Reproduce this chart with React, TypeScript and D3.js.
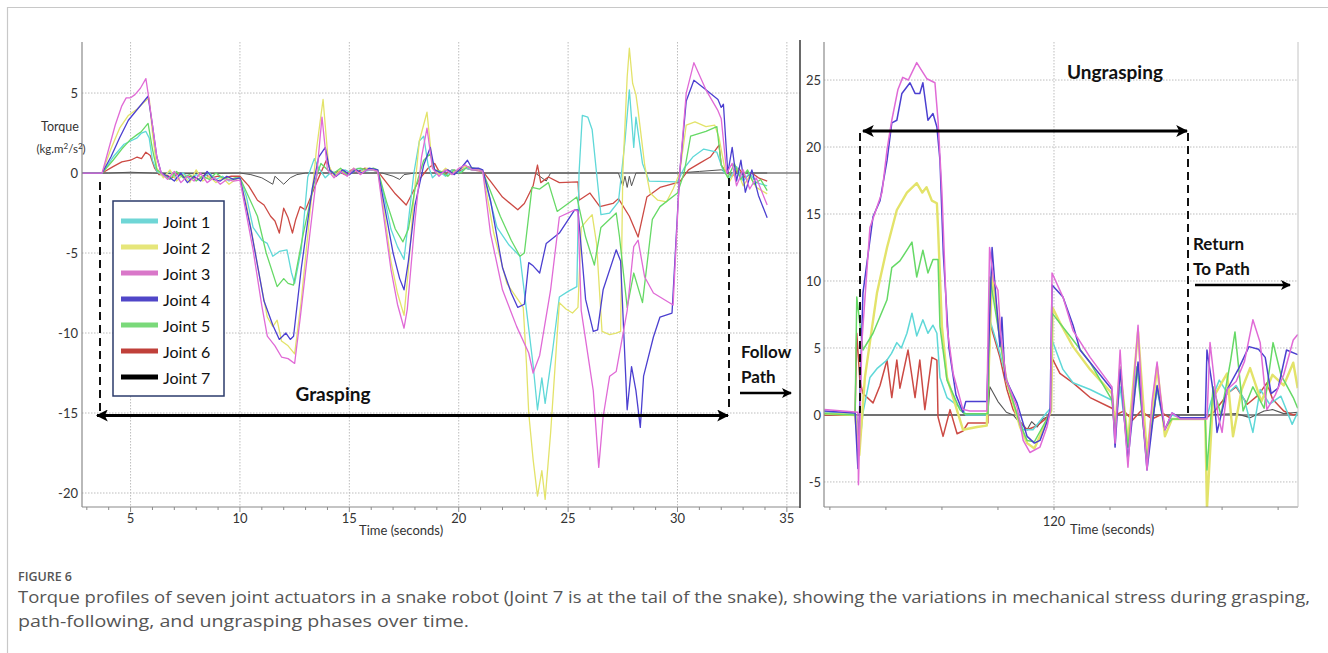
import React from "react";
import * as d3 from "d3";

type P = [number, number];

const JOINTS = ["Joint 1", "Joint 2", "Joint 3", "Joint 4", "Joint 5", "Joint 6", "Joint 7"];
const LINE_COLORS = ["#5fd8d8", "#e3e36a", "#e06ad6", "#4b3fd0", "#66d966", "#cc4a44", "#555555"];
const SWATCH_COLORS = ["#6fd6d6", "#e6e67a", "#d977c9", "#5046c8", "#7ad97a", "#c0403a", "#000000"];

const LEFT_X_TICKS = [5, 10, 15, 20, 25, 30, 35];
const LEFT_Y_TICKS = [5, 0, -5, -10, -15, -20];
const RIGHT_Y_TICKS = [25, 20, 15, 10, 5, 0, -5];
const RIGHT_X_LABELS = [120];

// ---------- Left panel (Grasping / Follow path), time in s, torque ----------
const L_J1: P[] = [[2.8,0],[3.7,0],[4.2,1.0],[4.7,1.8],[5.0,2.0],[5.3,2.2],[5.5,2.5],[5.7,2.6],[5.85,2.2],[6.0,0.8],[6.2,0.1],
[6.5,-0.2],[6.8,0.1],[7.1,-0.3],[7.4,0],[7.7,-0.4],[8.0,-0.1],[8.3,-0.3],[8.6,0],[8.9,-0.4],[9.2,-0.2],[9.5,-0.5],[9.8,-0.3],[10.0,-0.3],
[10.3,-1.5],[10.6,-3.4],[11.0,-4.2],[11.25,-4.4],[11.5,-5.2],[11.8,-4.9],[12.15,-4.8],[12.35,-6.2],[12.5,-6.9],[12.8,-4.8],[13.1,-0.25],[13.4,0.9],[13.6,0.3],[13.9,-0.3],
[14.2,0.1],[14.5,-0.1],[14.8,0.2],[15.1,0],[15.4,0.3],[15.7,0.1],[16.0,0.2],[16.3,0.1],
[16.6,-1.5],[16.9,-3.5],[17.2,-4.6],[17.5,-5.4],[17.7,-3],[17.95,0],[18.2,2.0],[18.4,2.3],[18.6,0.5],[18.8,-0.3],
[19.1,0.1],[19.4,-0.2],[19.7,0.2],[20.0,0],[20.3,0.3],[20.6,0.2],[20.9,0.2],[21.1,0.1],
[21.4,-1.5],[21.75,-3.4],[22.3,-4.5],[22.8,-5.2],[23.1,-8.6],[23.4,-12],[23.6,-14.8],[23.8,-12.8],[23.95,-14.4],[24.3,-11],[24.6,-7.75],[25.0,-7.4],[25.4,-7.1],[25.5,0],[25.65,3.6],[25.9,3.5],[26.1,2.7],[26.3,0],[26.5,-2.6],[26.9,-2.5],[27.3,-1.8],[27.6,2],[27.8,5.2],[28.0,1.6],[28.1,3.5],[28.4,0.6],[28.7,-0.5],[30.0,-0.55],[30.3,0.3],[30.7,1.0],[31.2,1.5],[31.8,1.3],[32.1,0.1],
[32.4,-0.3],[32.7,0.4],[33.0,-0.5],[33.3,0],[33.6,-0.6],[34.1,-0.8]];

const L_J2: P[] = [[2.8,0],[3.7,0],[4.1,1.5],[4.5,2.8],[4.9,3.6],[5.3,4.0],[5.6,4.4],[5.85,4.7],[6.0,2.5],[6.2,0.3],
[6.5,-0.3],[6.8,0.2],[7.1,-0.5],[7.4,-0.1],[7.7,-0.6],[8.0,0.2],[8.3,-0.5],[8.6,-0.2],[8.9,-0.6],[9.2,-0.3],[9.5,-0.7],[9.8,-0.4],[10.0,-0.3],
[10.3,-2],[10.6,-4.2],[10.9,-6.5],[11.25,-9],[11.5,-9.6],[11.7,-9.2],[11.9,-10.5],[12.2,-10.8],[12.5,-11.3],[12.8,-8],[13.2,-2.5],[13.5,1.5],[13.8,4.6],[14.05,0.5],
[14.3,-0.2],[14.6,0.2],[14.9,-0.1],[15.2,0.3],[15.5,0],[15.8,0.3],[16.1,0.2],[16.3,0.1],
[16.6,-2.5],[16.9,-5.5],[17.2,-7.5],[17.5,-8.9],[17.7,-6],[17.95,-1.5],[18.2,2],[18.55,3.8],[18.8,0.4],
[19.1,-0.1],[19.4,0.3],[19.7,0],[20.0,0.2],[20.3,0.4],[20.6,0.3],[20.9,0.2],[21.1,0.1],
[21.6,-3.75],[22.2,-6.9],[22.95,-8.4],[23.1,-12],[23.2,-15],[23.4,-17.9],[23.6,-20.2],[23.8,-18.6],[23.95,-20.4],[24.2,-16.25],[24.6,-8.1],[24.9,-8.5],[25.2,-8.75],[25.45,-8.4],[25.6,-3.4],[25.9,-2.9],[26.1,-2.6],[26.3,-4.4],[26.55,-9.9],[26.9,-10.1],[27.2,-10],[27.4,-9.9],[27.5,0],[27.7,6],[27.8,7.8],[27.95,5.6],[28.1,4.9],[28.2,3.9],[28.5,0.5],[28.75,-1.25],[29.1,-1.7],[29.5,-1.8],[29.8,-1.0],[30.1,0],[30.4,3.0],[30.8,3.2],[31.3,2.9],[31.7,3.0],[31.9,2.2],[32.2,0],
[32.4,-0.5],[32.7,0.3],[33.0,-0.8],[33.3,-0.2],[33.6,-0.9],[34.1,-1.3]];

const L_J3: P[] = [[2.8,0],[3.7,0],[4.0,1.5],[4.3,3],[4.6,4.2],[4.8,4.7],[5.0,4.7],[5.2,4.9],[5.45,5.3],[5.7,5.9],[5.8,5.0],[6.0,3],[6.2,1],[6.4,0],
[6.7,-0.4],[7.0,0.1],[7.3,-0.6],[7.6,-0.2],[7.9,-0.5],[8.2,0],[8.5,-0.6],[8.8,-0.3],[9.1,-0.7],[9.4,-0.4],[9.7,-0.5],[10.0,-0.45],
[10.6,-4.8],[11.0,-8.3],[11.25,-10.2],[11.6,-10.8],[11.9,-11.5],[12.2,-11.6],[12.5,-11.9],[12.76,-9],[13.2,-3.75],[13.5,-0.25],[13.75,3.5],[14.0,0.2],
[14.3,-0.3],[14.6,0.1],[14.9,-0.2],[15.2,0.3],[15.5,-0.1],[15.8,0.2],[16.1,0.2],[16.3,0.1],
[16.6,-3],[16.9,-6],[17.2,-8.2],[17.5,-9.7],[17.65,-8.5],[18.0,-3],[18.3,1],[18.55,2.8],[18.8,0.3],
[19.1,-0.2],[19.4,0.2],[19.7,-0.1],[20.0,0.3],[20.3,0.5],[20.6,0.2],[20.9,0.2],[21.1,0.1],
[21.45,-3.75],[22.0,-7.3],[22.65,-9.6],[23.2,-11.25],[23.4,-12.5],[23.7,-11.4],[24.2,-7.3],[24.6,-2.75],[25.3,-2.3],[25.45,-2.4],[25.6,-8.6],[26.15,-13.6],[26.4,-18.4],[26.6,-15.25],[26.9,-12.7],[27.2,-12.4],[27.7,-8.6],[28.0,-4.6],[28.2,-4.2],[28.5,-6.5],[28.9,-7.5],[29.8,-8.25],[30.1,0],[30.4,5],[30.75,6.9],[31.3,5.2],[31.85,3.9],[32.0,3.4],[32.25,0],
[32.5,0.6],[32.7,-0.8],[33.0,0.2],[33.3,-1.0],[33.6,-0.3],[34.1,-2.0]];

const L_J4: P[] = [[2.8,0],[3.7,0],[4.1,1.0],[4.5,2.2],[4.9,3.3],[5.2,3.8],[5.5,4.3],[5.8,4.8],[6.0,3.0],[6.2,1.0],[6.4,0],
[6.7,-0.2],[7.0,-0.5],[7.3,0],[7.6,-0.6],[7.9,-0.2],[8.2,-0.5],[8.5,0.1],[8.8,-0.4],[9.1,-0.5],[9.4,-0.2],[9.7,-0.4],[10.0,-0.3],
[10.5,-3.5],[11.1,-8],[11.5,-9.5],[11.8,-10.4],[12.1,-10],[12.3,-10.4],[12.45,-10.2],[12.8,-6],[13.3,-1],[13.6,1],[13.9,1.6],[14.1,0.2],
[14.4,-0.2],[14.7,0.2],[15.0,-0.1],[15.3,0.2],[15.6,0],[15.9,0.3],[16.3,0.2],
[16.6,-2],[17.0,-5],[17.3,-6.6],[17.5,-7.3],[17.7,-5.5],[18.0,-2],[18.4,0.5],[18.7,1.6],[18.9,0.2],
[19.2,0],[19.5,0.2],[19.8,-0.1],[20.1,0.3],[20.4,0.8],[20.6,0.3],[20.9,0.3],[21.1,0.2],
[21.45,-1.7],[22.0,-5.9],[22.4,-7.5],[22.7,-8.4],[23.0,-8.2],[23.2,-5.6],[23.4,-5.8],[23.7,-6.25],[24.0,-4.4],[24.6,-3.75],[25.3,-2.3],[25.45,-2.3],[25.8,-7.9],[26.15,-9.9],[26.35,-9.8],[26.6,-7.3],[27.2,-4.8],[27.4,-5.5],[27.7,-14.8],[27.9,-12.1],[28.1,-13.6],[28.3,-15.9],[28.45,-12.7],[28.9,-10.25],[29.2,-9],[29.75,-8.75],[30.1,0],[30.4,4.5],[30.75,5.8],[31.3,5.2],[31.85,4.6],[32.0,4.1],[32.1,4.3],[32.3,0],
[32.5,1.6],[32.7,-0.5],[32.9,0.8],[33.1,-1.2],[33.4,0.2],[33.7,-1.4],[34.1,-2.8]];

const L_J5: P[] = [[2.8,0],[3.7,0],[4.2,0.8],[4.6,1.5],[5.0,2.1],[5.3,2.4],[5.5,2.6],[5.8,3.1],[6.0,1.5],[6.2,0.2],
[6.5,-0.1],[6.8,-0.4],[7.1,0.1],[7.4,-0.3],[7.7,-0.1],[8.0,-0.5],[8.3,-0.2],[8.6,-0.4],[8.9,0],[9.2,-0.3],[9.5,-0.4],[9.8,-0.3],[10.0,-0.3],
[10.8,-2.7],[11.2,-5.0],[11.7,-7.1],[12.0,-6.6],[12.2,-6.9],[12.45,-7.0],[12.9,-3.75],[13.4,-0.6],[13.7,0.6],[14.0,0.2],
[14.3,0],[14.6,0.3],[14.9,-0.1],[15.2,0.2],[15.5,0.3],[15.8,0.2],[16.1,0.3],[16.3,0.2],
[16.7,-1.8],[17.1,-3.5],[17.45,-4.3],[17.7,-3.5],[18.0,-1],[18.4,0.8],[18.7,1.2],[18.9,0.2],
[19.2,0.1],[19.5,-0.2],[19.8,0.2],[20.1,0],[20.4,0.4],[20.7,0.3],[21.0,0.2],[21.1,0.1],
[21.9,-2.7],[22.4,-4.2],[22.8,-5.2],[23.0,-5],[23.35,-0.9],[23.7,-1.0],[24.1,-0.6],[24.5,-2.4],[25.0,-1.9],[25.4,-1.5],[25.8,-4],[26.2,-5.75],[26.5,-3.4],[27.2,-2.5],[27.35,-4],[27.7,-8.4],[28.0,-6.25],[28.4,-8.1],[28.85,-2.9],[29.2,-2.1],[30.0,-1.25],[30.3,0],[30.6,2.3],[31.3,2.6],[31.8,2.9],[32.0,0.5],
[32.3,-0.3],[32.6,0.6],[32.9,-0.4],[33.2,0.2],[33.5,-0.7],[33.8,-0.4],[34.1,-1.1]];

const L_J6: P[] = [[2.8,0],[3.7,0],[4.2,0.4],[4.6,0.7],[5.0,0.8],[5.3,1.0],[5.5,0.9],[5.7,1.3],[5.9,1.1],[6.1,0.3],[6.3,-0.1],
[6.6,-0.1],[6.9,-0.3],[7.2,0],[7.5,-0.3],[7.8,-0.2],[8.1,-0.4],[8.4,-0.1],[8.7,-0.3],[9.0,-0.2],[9.3,-0.3],[9.6,-0.2],[10.0,-0.2],
[10.4,-0.8],[10.8,-1.7],[11.1,-2.0],[11.4,-2.7],[11.6,-3.0],[11.8,-3.75],[12.0,-2.2],[12.2,-2.8],[12.4,-3.75],[12.55,-2.9],[12.75,-2.1],[13.0,-2.3],[13.5,-0.6],[13.95,0.8],[14.2,0],
[14.5,0.1],[14.8,-0.1],[15.1,0.2],[15.4,0.1],[15.7,0.3],[16.0,0.2],[16.3,0.1],
[16.7,-0.6],[17.1,-1.3],[17.6,-2.0],[17.9,-1.2],[18.2,-0.4],[18.6,0.3],[18.9,0.6],[19.1,0.1],
[19.4,-0.1],[19.7,0.2],[20.0,0.1],[20.3,0.3],[20.6,0.2],[21.1,0.1],
[21.5,-0.6],[22.0,-1.5],[22.7,-2.3],[23.0,-1.9],[23.4,-0.8],[23.6,0.5],[23.75,-0.6],[24.1,-0.25],[24.6,-0.6],[25.45,-0.55],[25.5,-1.7],[26.0,-1.25],[26.45,-2.1],[27.05,-1.9],[27.3,-1.6],[27.8,-2.7],[28.2,-4.0],[28.6,-1.5],[29.2,-0.9],[30.1,-0.55],[30.5,0.2],[31.0,0.6],[31.5,1.0],[31.9,1.75],[32.0,0.5],[32.2,0.1],
[32.5,-0.2],[32.8,0.3],[33.1,-0.3],[33.4,0],[33.7,-0.3],[34.1,-0.5]];

const L_J7: P[] = [[2.8,0],[4.0,0],[5.0,0.05],[6.0,0],[7.0,-0.05],[10.0,0],[10.5,-0.1],[11.0,-0.3],[11.5,-0.7],[11.6,-0.2],[12.0,-0.7],[12.3,-0.3],[12.6,-0.1],[13.0,0],
[16.5,0],[17.0,-0.2],[17.3,-0.4],[17.5,-0.1],[18.0,0],[23.5,0],[24.0,-0.5],[24.2,0],[27.3,0],[27.5,-0.8],[27.6,-0.2],[27.7,-0.9],[27.8,-0.2],[27.9,-0.8],[28.1,0],[30,0],[31,0.1],[32.0,0.2],[32.3,0],[34.1,0]];

// ---------- Right panel (Ungrasping / Return to path) ----------
const R_J1: P[] = [[111.8,0.2],[112.9,0.1],[113.0,-0.5],[113.1,-1.5],[113.18,0.15],[113.43,2.8],[113.7,3.5],[114.04,4.1],[114.2,4.6],[114.39,5.4],[114.55,5.0],[114.75,6.1],[114.93,7.6],[115.1,5.9],[115.32,7.1],[115.5,6.1],[115.68,6.7],[115.82,6.1],[115.93,2.8],[116.18,1.3],[116.75,0.4],[116.85,0],[117.64,0],[117.71,7.1],[118.07,4.6],[118.54,0.9],[118.9,-1.1],[119.25,-1.1],[119.75,0.2],[119.88,0.5],[119.93,5.6],[120.32,3.4],[120.68,2.4],[121.29,1.9],[122.07,1.1],[122.18,-0.7],[122.36,2.1],[122.64,-2.4],[123.0,3.6],[123.32,-3.2],[123.68,1.9],[123.96,-1.1],[124.21,0],[124.5,-0.2],[125.46,-0.2],[125.6,1.0],[125.9,2.6],[126.2,1.6],[126.5,2.2],[126.8,1.1],[127.1,-1.3],[127.36,1.9],[127.7,0.8],[128.1,1.4],[128.5,-0.7],[128.7,0.2]];

const R_J2: P[] = [[111.8,0.1],[112.9,0],[113.05,-3],[113.25,2.8],[113.68,9.1],[114.04,12.5],[114.39,15.3],[114.75,16.6],[115.1,17.3],[115.3,16.6],[115.45,17.0],[115.64,16.0],[115.82,15.8],[115.86,14.0],[116.0,6.6],[116.18,2.8],[116.75,-1.1],[117.25,-0.9],[117.6,-0.8],[117.79,10.6],[118.07,5.8],[118.3,2.6],[118.79,-0.9],[119.04,-2.1],[119.3,-2.5],[119.75,-0.4],[119.9,0.3],[119.95,8.0],[120.21,6.9],[120.68,5.1],[121.29,3.4],[122.07,1.6],[122.18,-1.0],[122.36,3.5],[122.64,-2.0],[123.0,6.2],[123.32,-3.0],[123.68,3.6],[123.96,-1.6],[124.21,-0.3],[125.4,-0.3],[125.46,-7.0],[125.68,1.3],[126.18,3.1],[126.39,-1.6],[126.7,1.9],[127.0,3.5],[127.4,1.0],[127.8,3.0],[128.2,2.2],[128.54,3.9],[128.7,2.0]];

const R_J3: P[] = [[111.8,0.4],[113.0,0.2],[113.02,-5.2],[113.14,5.4],[113.43,14],[113.86,16.6],[114.04,19.8],[114.21,22],[114.43,24.3],[114.6,25.2],[114.8,25.0],[115.1,26.3],[115.25,25.8],[115.46,25.1],[115.75,24.8],[115.86,22],[116.0,16.6],[116.18,6.6],[116.4,3.1],[116.75,0.4],[117.0,0.3],[117.6,0.3],[117.7,12.5],[117.85,10],[118.0,9.3],[118.1,6],[118.3,2.6],[118.68,0.6],[118.9,-1.9],[119.14,-2.8],[119.5,-2.4],[119.75,-0.9],[119.88,0.4],[119.93,10.6],[120.32,8.8],[120.68,6.3],[121.29,4.3],[122.07,2.1],[122.12,0],[122.18,-2.1],[122.36,4.85],[122.5,0],[122.64,-3.9],[122.8,1],[123.0,6.7],[123.15,0.5],[123.32,-4.1],[123.5,1],[123.68,3.95],[123.8,1.5],[123.96,-1.1],[124.21,0.15],[124.5,-0.3],[125.46,-0.3],[125.57,5.4],[125.7,3],[125.85,0],[126.0,-1.3],[126.18,1.9],[126.5,2.5],[126.8,4],[127.1,7.1],[127.36,5.4],[127.6,0.4],[127.9,1.5],[128.2,3],[128.54,5.6],[128.7,6]];

const R_J4: P[] = [[111.8,0.3],[112.9,0.15],[113.0,-4.0],[113.18,9.1],[113.54,14.8],[113.79,16.0],[114.04,19.0],[114.21,21.8],[114.39,22.0],[114.57,24.0],[114.86,24.8],[115.04,24.0],[115.21,24.0],[115.32,24.8],[115.5,22.0],[115.68,22.5],[115.82,21.5],[115.93,19.0],[116.05,12],[116.25,5],[116.5,1.5],[116.75,0.2],[116.85,1.0],[117.6,1.0],[117.79,12.5],[117.9,9.5],[118.07,5.1],[118.14,7.3],[118.25,2.8],[118.68,0.9],[119.04,-1.6],[119.3,-2.1],[119.5,-1.9],[119.75,-0.5],[119.86,0.4],[119.93,9.7],[120.32,8.8],[120.68,6.7],[120.93,4.85],[122.07,1.9],[122.18,-2.4],[122.36,3.4],[122.64,-3.4],[123.0,3.95],[123.32,-4.1],[123.68,2.2],[123.96,-1.1],[124.21,0.15],[124.5,-0.2],[125.4,-0.2],[125.46,4.85],[125.7,1.5],[125.82,-1.3],[126.18,1.9],[126.6,3.5],[126.96,5.1],[127.3,4.9],[127.54,4.3],[127.75,1.6],[128.0,2.0],[128.3,4.85],[128.7,4.5]];

const R_J5: P[] = [[111.8,0.1],[112.9,0],[112.96,8.8],[113.18,4.85],[113.54,6.1],[114.04,8.6],[114.21,11],[114.5,11.5],[114.75,12.3],[114.93,12.9],[115.1,10.3],[115.32,12.3],[115.5,10.6],[115.68,11.6],[115.86,11.6],[115.93,6.6],[116.18,2.6],[116.64,0.4],[116.8,0.1],[117.64,0.1],[117.71,10.3],[117.96,7.1],[118.3,2.6],[118.79,-0.7],[119.04,-1.9],[119.3,-2.0],[119.75,-0.3],[119.88,0.3],[119.93,7.6],[120.68,5.6],[121.29,3.9],[122.07,1.1],[122.18,-1.5],[122.36,3.6],[122.64,-2.4],[122.96,3.6],[123.32,-3.4],[123.68,2.1],[123.96,-1.0],[124.21,-0.3],[125.4,-0.3],[125.46,-4.1],[125.68,2.1],[125.96,0],[126.3,4.0],[126.46,6.2],[126.75,0.3],[127.1,2.1],[127.5,0.5],[127.82,5.4],[128.1,3.0],[128.54,1.3],[128.7,0.5]];

const R_J6: P[] = [[111.8,0],[112.9,0],[112.96,6.1],[113.07,2.6],[113.18,1.6],[113.54,0.9],[113.79,2.2],[114.04,4.1],[114.21,1.3],[114.39,4.1],[114.5,2.0],[114.79,4.85],[115.04,1.3],[115.21,4.1],[115.39,0.4],[115.64,4.3],[115.82,4.1],[115.86,-0.15],[116.04,-1.6],[116.29,0.4],[116.54,-1.4],[116.75,-1.2],[116.93,-0.6],[117.64,-0.6],[117.71,6.9],[118.07,4.3],[118.32,1.9],[118.54,0.4],[118.79,-0.5],[119.04,-1.1],[119.4,-0.8],[119.75,-0.2],[119.88,0.3],[119.93,4.25],[120.21,3.1],[120.68,2.4],[121.29,1.3],[122.07,0.5],[122.2,0],[122.5,0.3],[122.8,-0.4],[123.1,0.3],[123.5,-0.3],[123.9,0.1],[124.2,-0.3],[125.4,-0.3],[125.7,0.2],[126.0,1.0],[126.18,1.6],[126.5,2.1],[126.9,0.8],[127.3,1.5],[127.6,2.4],[127.8,1.2],[128.2,0.3],[128.54,0],[128.7,0.1]];

const R_J7: P[] = [[111.8,0],[117.64,0],[117.71,2.1],[118.0,1.0],[118.3,0.2],[118.54,0],[118.79,-0.6],[119.04,-1.1],[119.2,-0.5],[119.4,-0.9],[119.6,-0.3],[119.9,0],[125.4,0],[126.5,0.1],[127.0,-0.2],[127.5,0.3],[127.8,0.4],[128.2,0.1],[128.7,0.2]];

const LEFT_SERIES = [L_J1, L_J2, L_J3, L_J4, L_J5, L_J6, L_J7];
const RIGHT_SERIES = [R_J1, R_J2, R_J3, R_J4, R_J5, R_J6, R_J7];
const DRAW_ORDER = [6, 5, 0, 1, 4, 3, 2];

const CAPTION_1 = "Torque profiles of seven joint actuators in a snake robot (Joint 7 is at the tail of the snake), showing the variations in mechanical stress during grasping,";
const CAPTION_2 = "path-following, and ungrasping phases over time.";

const FONT = "Lato, 'Open Sans', sans-serif";

export default function App() {
  const W = 1328, H = 653;
  const xL = d3.scaleLinear().domain([2.78, 35.6]).range([82, 800]);
  const yL = d3.scaleLinear().domain([-20.875, 8.19]).range([507, 42]);
  const xR = d3.scaleLinear().domain([111.79, 128.71]).range([824, 1298]);
  const yR = d3.scaleLinear().domain([-6.87, 27.84]).range([507, 42]);

  const lineL = d3.line<P>().x((d) => xL(d[0])).y((d) => yL(d[1]));
  const lineR = d3.line<P>().x((d) => xR(d[0])).y((d) => yR(d[1]));

  const leftMinor = d3.range(3, 36, 1);
  const rightMinor = d3.range(112, 129, 2);

  const grid = "#bdbdbd";

  return (
    <svg width={W} height={H} viewBox={`0 0 ${W} ${H}`} style={{ position: "absolute", left: 0, top: 0, background: "#fff" }} fontFamily={FONT}>
      <defs>
        <clipPath id="clipL"><rect x={82} y={42} width={718} height={465} /></clipPath>
        <clipPath id="clipR"><rect x={824} y={42} width={474} height={465} /></clipPath>
        <marker id="ah" viewBox="0 0 10 10" refX="9" refY="5" markerWidth="4" markerHeight="4" orient="auto-start-reverse" markerUnits="strokeWidth">
          <path d="M0,0 L10,5 L0,10 L2.5,5 z" fill="#000" />
        </marker>
      </defs>
      <rect x={0} y={0} width={W} height={H} fill="#fff" />
      {/* outer frame */}
      <line x1={7} y1={7.5} x2={W} y2={7.5} stroke="#c8c8c8" strokeWidth={1.2} />
      <line x1={7.5} y1={7} x2={7.5} y2={H} stroke="#c8c8c8" strokeWidth={1.2} />

      {/* ===== Left panel ===== */}
      <g>
        {LEFT_X_TICKS.map((t) => (
          <line key={"lgx" + t} x1={xL(t)} x2={xL(t)} y1={42} y2={507} stroke={grid} strokeWidth={1} strokeDasharray="1.5,1.5" />
        ))}
        {LEFT_Y_TICKS.filter((v) => v !== 0).map((v) => (
          <line key={"lgy" + v} x1={82} x2={800} y1={yL(v)} y2={yL(v)} stroke={grid} strokeWidth={1} strokeDasharray="1.5,1.5" />
        ))}
        <line x1={82} x2={800} y1={yL(0)} y2={yL(0)} stroke="#7a7a7a" strokeWidth={1.6} />
        <g clipPath="url(#clipL)">
          {DRAW_ORDER.map((i) => (
            <path key={"ls" + i} d={lineL(LEFT_SERIES[i]) || ""} fill="none" stroke={LINE_COLORS[i]} strokeWidth={i === 6 ? 1 : 1.3} strokeLinejoin="round" />
          ))}
        </g>
        {/* axes */}
        <line x1={82} x2={82} y1={42} y2={507} stroke="#8a8a8a" strokeWidth={1.2} />
        <line x1={82} x2={800} y1={507} y2={507} stroke="#8a8a8a" strokeWidth={1.2} />
        <line x1={800} x2={800} y1={40} y2={508} stroke="#444" strokeWidth={1.6} />
        {leftMinor.map((t) => (
          <line key={"lmt" + t} x1={xL(t)} x2={xL(t)} y1={507} y2={t % 5 === 0 ? 512 : 510} stroke="#8a8a8a" strokeWidth={1} />
        ))}
        {LEFT_Y_TICKS.map((v) => (
          <text key={"lyl" + v} x={78} y={yL(v)} textAnchor="end" dominantBaseline="central" fontSize={13} fill="#333">{v}</text>
        ))}
        {LEFT_X_TICKS.map((t) => (
          <text key={"lxl" + t} x={xL(t)} y={523} textAnchor="middle" fontSize={13} fill="#333">{t}</text>
        ))}
        <text x={359} y={535} fontSize={13} fill="#333">Time (seconds)</text>
        <text x={60} y={131} textAnchor="middle" fontSize={12.5} fill="#333">Torque</text>
        <text x={61} y={153} textAnchor="middle" fontSize={11.5} fill="#333">
          (kg.m<tspan dy={-4} fontSize={8}>2</tspan><tspan dy={4}>/s</tspan><tspan dy={-4} fontSize={8}>2</tspan><tspan dy={4}>)</tspan>
        </text>

        {/* legend */}
        <rect x={113} y={201} width={111} height={195} fill="#fff" stroke="#2b3b6b" strokeWidth={1.5} />
        {JOINTS.map((name, i) => (
          <g key={"lg" + i}>
            <line x1={121} x2={158} y1={221 + i * 26} y2={221 + i * 26} stroke={SWATCH_COLORS[i]} strokeWidth={5} />
            <text x={163} y={221 + i * 26} dominantBaseline="central" fontSize={16} fill="#111">{name}</text>
          </g>
        ))}

        {/* annotations */}
        <line x1={100} x2={100} y1={182} y2={411} stroke="#111" strokeWidth={2} strokeDasharray="8,5" />
        <line x1={729} x2={729} y1={178} y2={407} stroke="#111" strokeWidth={2} strokeDasharray="8,5" />
        <line x1={97} x2={728} y1={415.5} y2={415.5} stroke="#000" strokeWidth={3} markerStart="url(#ah)" markerEnd="url(#ah)" />
        <text x={333} y={401} textAnchor="middle" fontSize={19} fontWeight="bold" fill="#111">Grasping</text>
        <text x={741} y={358} fontSize={17} fontWeight="bold" fill="#111">Follow</text>
        <text x={741} y={383} fontSize={17} fontWeight="bold" fill="#111">Path</text>
        <line x1={740} x2={791} y1={393} y2={393} stroke="#000" strokeWidth={2.5} markerEnd="url(#ah)" />
      </g>

      {/* ===== Right panel ===== */}
      <g>
        {RIGHT_X_LABELS.map((t) => (
          <line key={"rgx" + t} x1={xR(t)} x2={xR(t)} y1={42} y2={507} stroke={grid} strokeWidth={1} strokeDasharray="1.5,1.5" />
        ))}
        {RIGHT_Y_TICKS.filter((v) => v !== 0).map((v) => (
          <line key={"rgy" + v} x1={824} x2={1298} y1={yR(v)} y2={yR(v)} stroke={grid} strokeWidth={1} strokeDasharray="1.5,1.5" />
        ))}
        <line x1={824} x2={1298} y1={yR(0)} y2={yR(0)} stroke="#6a6a6a" strokeWidth={1.6} />
        <g clipPath="url(#clipR)">
          {DRAW_ORDER.map((i) => (
            <path key={"rs" + i} d={lineR(RIGHT_SERIES[i]) || ""} fill="none" stroke={LINE_COLORS[i]} strokeWidth={i === 1 ? 2.4 : i === 6 ? 1.1 : 1.5} strokeLinejoin="round" />
          ))}
        </g>
        <line x1={824} x2={824} y1={42} y2={507} stroke="#8a8a8a" strokeWidth={1.2} />
        <line x1={824} x2={1298} y1={507} y2={507} stroke="#8a8a8a" strokeWidth={1.2} />
        <line x1={1298} x2={1298} y1={42} y2={507} stroke="#c4c4c4" strokeWidth={1} />
        {rightMinor.map((t) => (
          <line key={"rmt" + t} x1={xR(t)} x2={xR(t)} y1={507} y2={510} stroke="#8a8a8a" strokeWidth={1} />
        ))}
        {RIGHT_Y_TICKS.map((v) => (
          <text key={"ryl" + v} x={821} y={yR(v)} textAnchor="end" dominantBaseline="central" fontSize={13} fill="#333">{v}</text>
        ))}
        {RIGHT_X_LABELS.map((t) => (
          <text key={"rxl" + t} x={xR(t)} y={526} textAnchor="middle" fontSize={13} fill="#333">{t}</text>
        ))}
        <text x={1070} y={534} fontSize={13} fill="#333">Time (seconds)</text>

        <line x1={860} x2={860} y1={133} y2={413} stroke="#111" strokeWidth={2} strokeDasharray="8,5" />
        <line x1={1188} x2={1188} y1={133} y2={413} stroke="#111" strokeWidth={2} strokeDasharray="8,5" />
        <line x1={863} x2={1187} y1={131} y2={131} stroke="#000" strokeWidth={3} markerStart="url(#ah)" markerEnd="url(#ah)" />
        <text x={1115} y={79} textAnchor="middle" fontSize={19} fontWeight="bold" fill="#111">Ungrasping</text>
        <text x={1193} y={250} fontSize={17} fontWeight="bold" fill="#111">Return</text>
        <text x={1193} y={275} fontSize={17} fontWeight="bold" fill="#111">To Path</text>
        <line x1={1195} x2={1290} y1={285} y2={285} stroke="#000" strokeWidth={2.5} markerEnd="url(#ah)" />
      </g>

      {/* caption */}
      <text x={18} y={581} fontSize={12} fontWeight={600} fill="#555" fontFamily="'Open Sans', sans-serif" textLength={54} lengthAdjust="spacingAndGlyphs">FIGURE 6</text>
      <text x={18} y={603} fontSize={17} fill="#555" fontFamily="'Open Sans', sans-serif" textLength={1292} lengthAdjust="spacingAndGlyphs">{CAPTION_1}</text>
      <text x={18} y={627} fontSize={17} fill="#555" fontFamily="'Open Sans', sans-serif" textLength={451} lengthAdjust="spacingAndGlyphs">{CAPTION_2}</text>
    </svg>
  );
}
